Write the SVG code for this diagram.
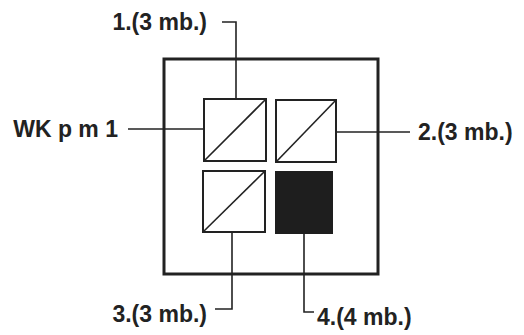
<svg xmlns="http://www.w3.org/2000/svg" width="524" height="335" viewBox="0 0 524 335">
<style>
.lbl{font-family:"Liberation Sans",Arial,sans-serif;font-weight:bold;font-size:23px;fill:#222}
.cell{fill:#fff;stroke:#222;stroke-width:2}
.diag{stroke:#222;stroke-width:1.6}
.conn{fill:none;stroke:#222;stroke-width:1.6}
</style>
<rect width="524" height="335" fill="#fff"/>
<g id="frame"><rect x="164" y="59" width="214" height="215" fill="none" stroke="#222" stroke-width="3"/></g>
<g id="connectors">
<polyline class="conn" points="222,22 236,22 236,99"/>
<line class="conn" x1="128" y1="129" x2="204" y2="129"/>
<line class="conn" x1="335" y1="132" x2="410" y2="132"/>
<polyline class="conn" points="232,233 232,309 215,309"/>
<polyline class="conn" points="304,234 304,312 314,312"/>
</g>
<g id="cell1"><rect class="cell" x="204" y="99" width="62" height="62"/><line class="diag" x1="204" y1="161" x2="266" y2="99"/></g>
<g id="cell2"><rect class="cell" x="276" y="100" width="60" height="62"/><line class="diag" x1="276" y1="162" x2="336" y2="100"/></g>
<g id="cell3"><rect class="cell" x="203" y="171" width="62" height="61"/><line class="diag" x1="203" y1="232" x2="265" y2="171"/></g>
<g id="cell4"><rect x="275" y="171" width="58" height="63" fill="#1e1e1e"/></g>
<g id="labels">
<text class="lbl" x="207" y="30" text-anchor="end">1.(3 mb.)</text>
<text class="lbl" x="118" y="137" text-anchor="end">WK p m 1</text>
<text class="lbl" x="418" y="140">2.(3 mb.)</text>
<text class="lbl" x="207" y="322" text-anchor="end">3.(3 mb.)</text>
<text class="lbl" x="317" y="325">4.(4 mb.)</text>
</g>
</svg>
